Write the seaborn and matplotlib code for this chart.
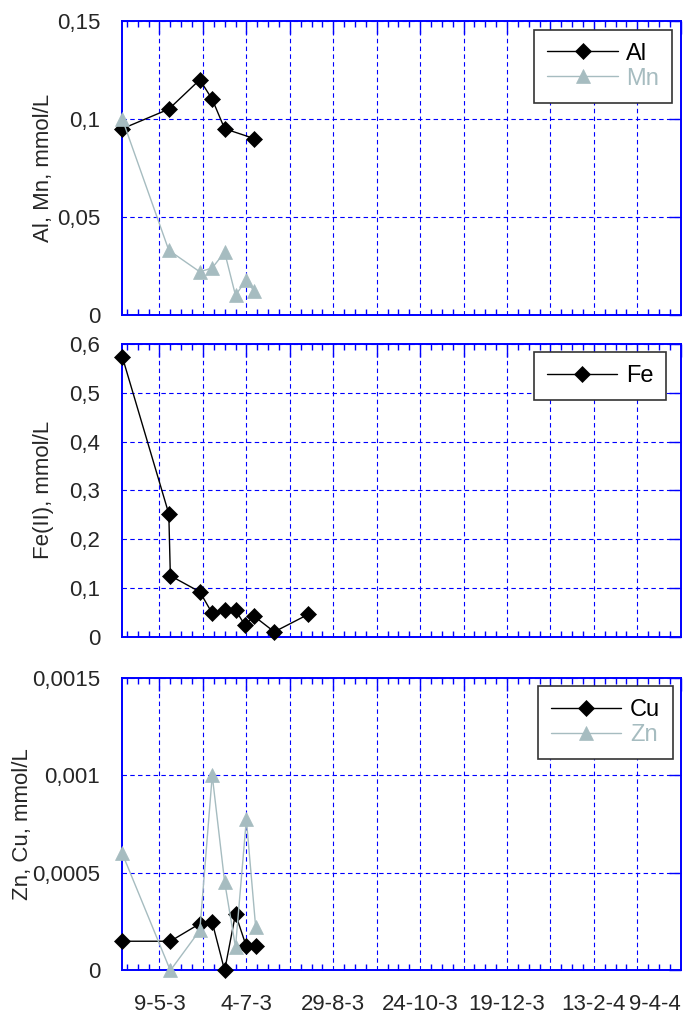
import pandas as pd
import matplotlib as mpl
mpl.use('agg')
import matplotlib.pyplot as plt
import matplotlib.dates as mdates
from matplotlib.ticker import FuncFormatter, MultipleLocator, FixedLocator, FixedFormatter
import seaborn as sns

sns.set_style('white')
plt.rcParams['font.family'] = ['Liberation Sans', 'DejaVu Sans']

# sampling dates and concentrations (mmol/L)
al_dates = ['2003-04-15', '2003-05-15', '2003-06-04', '2003-06-12', '2003-06-20', '2003-07-09']
al_vals = [0.095, 0.105, 0.12, 0.11, 0.095, 0.09]
mn_dates = ['2003-04-15', '2003-05-15', '2003-06-04', '2003-06-12', '2003-06-20',
            '2003-06-27', '2003-07-04', '2003-07-09']
mn_vals = [0.1, 0.033, 0.022, 0.024, 0.032, 0.01, 0.018, 0.012]
fe_dates = ['2003-04-15', '2003-05-15', '2003-05-16', '2003-06-04', '2003-06-12', '2003-06-20',
            '2003-06-27', '2003-07-03', '2003-07-09', '2003-07-22', '2003-08-13']
fe_vals = [0.574, 0.252, 0.125, 0.092, 0.048, 0.055, 0.055, 0.024, 0.042, 0.010, 0.046]
cuzn_dates = ['2003-04-15', '2003-05-16', '2003-06-04', '2003-06-12', '2003-06-20',
              '2003-06-27', '2003-07-04', '2003-07-10']
cu_vals = [0.00015, 0.00015, 0.00024, 0.000247, 0.0, 0.00029, 0.000123, 0.000123]
zn_vals = [0.0006, 0.0, 0.000206, 0.001, 0.000454, 0.00012, 0.000775, 0.000223]

tick_labels = ['9-5-3', '4-7-3', '29-8-3', '24-10-3', '19-12-3', '13-2-4', '9-4-4']
x_start, x_end = '2003-04-15', '2004-04-09'

BLACK = '#000000'
GREY = '#a6bcc0'
BLUE = '#0000ff'
FS = 16

# gridlines every 4 weeks, labels every 8 weeks, minor ticks weekly
grid_dates = pd.date_range('2003-05-09', x_end, freq='28D')
minor_dates = pd.date_range('2003-04-18', x_end, freq='7D')
grid_labels = []
for i in range(len(grid_dates)):
    grid_labels.append(tick_labels[i // 2] if i % 2 == 0 else '')


def draw(ax, dates, vals, label, color, marker, ms):
    sns.lineplot(x=pd.to_datetime(dates), y=vals, ax=ax, color=color, marker=marker,
                 markersize=ms, markeredgecolor=color, markerfacecolor=color,
                 markeredgewidth=0.5, linewidth=1, label=label, errorbar=None,
                 clip_on=False, zorder=3)


def style_axis(ax, ymax, ystep, ylabel, label_x, show_x):
    ax.set_xlim(pd.Timestamp(x_start), pd.Timestamp(x_end))
    ax.set_ylim(0, ymax)
    ax.xaxis.set_major_locator(FixedLocator(mdates.date2num(grid_dates)))
    ax.xaxis.set_major_formatter(FixedFormatter(grid_labels))
    ax.xaxis.set_minor_locator(FixedLocator(mdates.date2num(minor_dates)))
    ax.yaxis.set_major_locator(MultipleLocator(ystep))
    ax.yaxis.set_major_formatter(FuncFormatter(lambda v, p: ('%g' % round(v, 6)).replace('.', ',')))
    ax.grid(True, which='major', color=BLUE, linestyle=(0, (4, 3)), linewidth=0.8)
    ax.tick_params(axis='both', which='major', direction='in', length=9, width=1,
                   color=BLUE, top=True, right=True, labelsize=FS)
    ax.tick_params(axis='x', which='minor', direction='in', length=4.5, width=1,
                   color=BLUE, top=True, bottom=True)
    ax.tick_params(axis='y', pad=16)
    ax.tick_params(axis='x', pad=17, labelbottom=show_x)
    for s in ax.spines.values():
        s.set_color(BLUE)
        s.set_linewidth(1.4)
    ax.set_xlabel('')
    ax.set_ylabel(ylabel, fontsize=FS)
    ax.yaxis.set_label_coords(label_x, 0.5)


def add_legend(ax, anchor, colors):
    leg = ax.legend(loc='upper right', bbox_to_anchor=anchor, borderaxespad=0, frameon=True,
                    fancybox=False, framealpha=1, edgecolor='#333333', fontsize=17,
                    handlelength=3.0, handletextpad=0.35, borderpad=0.55, labelspacing=0.12)
    leg.get_frame().set_linewidth(1.2)
    for t, c in zip(leg.get_texts(), colors):
        t.set_color(c)


fig = plt.figure(figsize=(6.9, 10.16), dpi=100)
ax1 = fig.add_axes([0.1772, 0.6900, 0.8093, 0.2894])
ax2 = fig.add_axes([0.1772, 0.3733, 0.8093, 0.2881])
ax3 = fig.add_axes([0.1772, 0.0448, 0.8093, 0.2879])

draw(ax1, al_dates, al_vals, 'Al', BLACK, 'D', 8.5)
draw(ax1, mn_dates, mn_vals, 'Mn', GREY, '^', 9.5)
style_axis(ax1, 0.15, 0.05, 'Al, Mn, mmol/L', -0.123, False)
add_legend(ax1, (0.985, 0.97), [BLACK, GREY])

draw(ax2, fe_dates, fe_vals, 'Fe', BLACK, 'D', 8.5)
style_axis(ax2, 0.6, 0.1, 'Fe(II), mmol/L', -0.123, False)
add_legend(ax2, (0.974, 0.973), [BLACK])

draw(ax3, cuzn_dates, cu_vals, 'Cu', BLACK, 'D', 8.5)
draw(ax3, cuzn_dates, zn_vals, 'Zn', GREY, '^', 9.5)
style_axis(ax3, 0.0015, 0.0005, 'Zn, Cu, mmol/L', -0.16, True)
add_legend(ax3, (0.986, 0.972), [BLACK, GREY])

# keep the last date label inside the figure
last = [t for t in ax3.get_xticklabels() if t.get_text()][-1]
last.set_ha('right')

fig.savefig('out.png', dpi=100)
plt.close()
